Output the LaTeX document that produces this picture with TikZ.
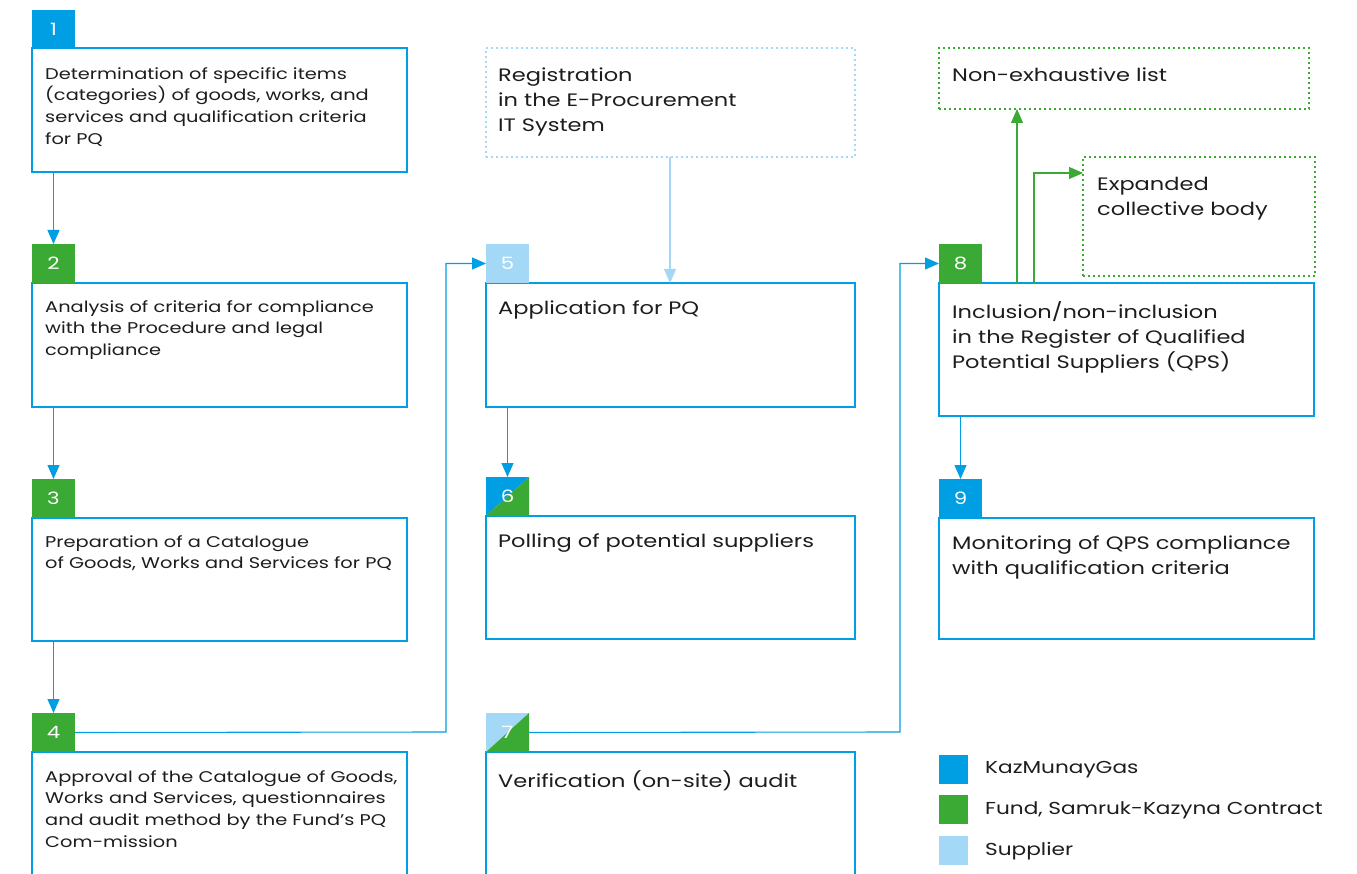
\documentclass[tikz,border=0pt]{standalone}
\usepackage{fontspec}
\setmainfont{Poppins}[FakeStretch=1.25]
\usetikzlibrary{arrows.meta}
\definecolor{kmg}{HTML}{009FE3}
\definecolor{fund}{HTML}{3AAA35}
\definecolor{supp}{HTML}{A3D9F6}
\definecolor{txt}{HTML}{1D1D1B}
\begin{document}
\begin{tikzpicture}[x=1pt,y=-1pt,
  box/.style={draw=kmg,line width=1.1pt,anchor=north west,inner sep=0,outer sep=0,minimum width=#1},
  tabbox/.style={anchor=north west,inner sep=0,outer sep=0,minimum width=43,minimum height=39,text=white,font=\fontsize{17}{17}\selectfont},
  dotbox/.style={draw=#1,line width=1.7pt,dash pattern=on 1.7pt off 3.3pt,anchor=north west,inner sep=0,outer sep=0},
  smalltxt/.style={anchor=north west,inner sep=0,align=left,text=txt,font=\fontsize{15.5}{21.8}\selectfont},
  bigtxt/.style={anchor=north west,inner sep=0,align=left,text=txt,font=\fontsize{18}{25}\selectfont},
  conn/.style={draw=kmg,line width=1.1pt,-{Triangle[length=14pt,width=12pt]}},
  gconn/.style={draw=fund,line width=1.1pt,-{Triangle[length=14pt,width=12pt]}},
  lconn/.style={draw=supp,line width=1.1pt,-{Triangle[length=14pt,width=12pt]}},
  legsq/.style={anchor=north west,inner sep=0,minimum width=29,minimum height=29},
  legtxt/.style={anchor=west,inner sep=0,text=txt,font=\fontsize{17.3}{20}\selectfont}]
\useasboundingbox (0,0) rectangle (1357,874);
\clip (0,0) rectangle (1357,874);
\fill[white] (0,0) rectangle (1357,874);
% column 1
\node[box=375,minimum height=124] (b1) at (32,48) {};
\node[tabbox,fill=kmg] (t1) at (32,10) {1};
\node[smalltxt] (x1) at (45,67) {Determination of specific items\\(categories) of goods, works, and\\services and qualification criteria\\for PQ};
\node[box=375,minimum height=124] (b2) at (32,283) {};
\node[tabbox,fill=fund] (t2) at (32,244) {2};
\node[smalltxt] (x2) at (45,300) {Analysis of criteria for compliance\\with the Procedure and legal\\compliance};
\node[box=375,minimum height=123] (b3) at (32,518) {};
\node[tabbox,fill=fund] (t3) at (32,479) {3};
\node[smalltxt] (x3) at (45,535) {Preparation of a Catalogue\\of Goods, Works and Services for PQ};
\node[box=375,minimum height=140] (b4) at (32,752) {};
\node[tabbox,fill=fund] (t4) at (32,713) {4};
\node[smalltxt] (x4) at (45,770) {Approval of the Catalogue of Goods,\\Works and Services, questionnaires\\and audit method by the Fund’s PQ\\Com-mission};
% column 2
\node[dotbox=supp,minimum width=369,minimum height=109] (reg) at (486,48) {};
\node[bigtxt] (xr) at (498,68) {Registration\\in the E-Procurement\\IT System};
\node[box=369,minimum height=124] (b5) at (486,283) {};
\node[tabbox,fill=supp] (t5) at (486,244) {5};
\node[bigtxt] (x5) at (498,301) {Application for PQ};
\node[box=369,minimum height=123] (b6) at (486,516) {};
\fill[kmg] (486,477) -- (529,477) -- (486,516) -- cycle;
\fill[fund] (529,477) -- (529,516) -- (486,516) -- cycle;
\node[tabbox] (t6) at (486,477) {6};
\node[box=369,minimum height=140] (b7) at (486,752) {};
\fill[supp] (486,713) -- (529,713) -- (486,752) -- cycle;
\fill[fund] (529,713) -- (529,752) -- (486,752) -- cycle;
\node[tabbox] (t7) at (486,713) {7};
\node[bigtxt] (x6) at (498,534) {Polling of potential suppliers};
\node[bigtxt] (x7) at (498,770) {Verification (on-site) audit};
% column 3
\node[dotbox=fund,minimum width=370,minimum height=61] (nel) at (939,48) {};
\node[bigtxt] (xn) at (952,68) {Non-exhaustive list};
\node[dotbox=fund,minimum width=232,minimum height=119] (ecb) at (1083,157) {};
\node[bigtxt] (xe) at (1097,177) {Expanded\\collective body};
\node[box=375,minimum height=133] (b8) at (939,283) {};
\node[tabbox,fill=fund] (t8) at (939,244) {8};
\node[bigtxt] (x8) at (952,301) {Inclusion/non-inclusion\\in the Register of Qualified\\Potential Suppliers (QPS)};
\node[box=375,minimum height=121] (b9) at (939,518) {};
\node[tabbox,fill=kmg] (t9) at (939,479) {9};
\node[bigtxt] (x9) at (952,536) {Monitoring of QPS compliance\\with qualification criteria};
% connectors
\draw[conn] (b1.south west -| t1.south) -- (t2.north);
\draw[conn] (b2.south west -| t2.south) -- (t3.north);
\draw[conn] (b3.south west -| t3.south) -- (t4.north);
\coordinate (c45) at (446,732);
\draw[conn] (t4.east) -- (c45) |- (t5.west);
\draw[conn] (b5.south west -| t6.north) -- (t6.north);
\draw[lconn] (reg.south -| 670,0) -- (b5.north -| 670,0);
\coordinate (c78) at (900,732);
\draw[conn] (t7.east) -- (c78) |- (t8.west);
\draw[conn] (b8.south west -| t9.north) -- (t9.north);
\draw[gconn] (b8.north -| 1017,0) -- (nel.south -| 1017,0);
\coordinate (c8e) at (1034,173);
\draw[gconn] (b8.north -| c8e) -- (c8e) -- (c8e -| ecb.west);
% legend
\node[legsq,fill=kmg] (l1) at (939,755) {};
\node[legsq,fill=fund] (l2) at (939,795) {};
\node[legsq,fill=supp] (l3) at (939,836) {};
\node[legtxt] (lt1) at (985,770) {KazMunayGas};
\node[legtxt] (lt2) at (985,810) {Fund, Samruk-Kazyna Contract};
\node[legtxt] (lt3) at (985,851) {Supplier};
\end{tikzpicture}
\end{document}
